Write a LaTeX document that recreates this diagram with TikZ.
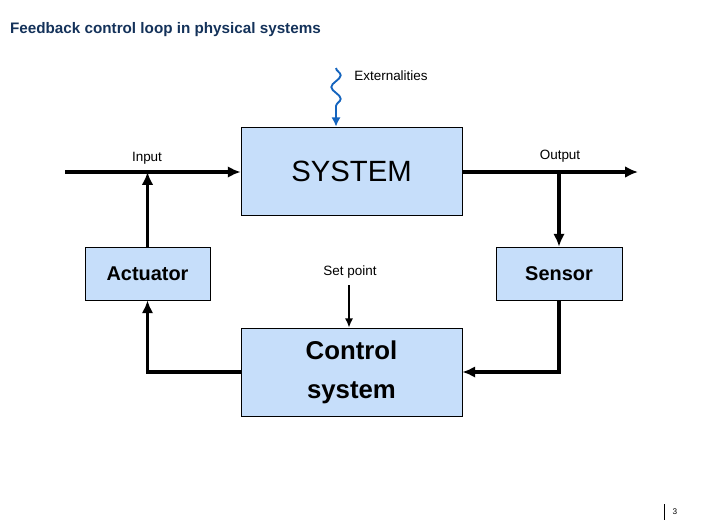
\documentclass[tikz,border=0pt]{standalone}
\usepackage{fontspec}
\setmainfont{Liberation Sans}
\usetikzlibrary{positioning,arrows.meta,decorations.pathmorphing}
\definecolor{boxfill}{RGB}{198,222,250}
\definecolor{titleblue}{RGB}{20,50,90}
\definecolor{wavyblue}{RGB}{20,100,190}
\begin{document}
\begin{tikzpicture}[x=0.03cm,y=-0.03cm,
    block/.style={draw,fill=boxfill,line width=0.6pt,inner sep=0pt,align=center},
    flow/.style={line width=3pt,-{Latex[length=11pt,width=10pt]}},
    lbl/.style={font=\fontsize{11.5}{12}\selectfont}]
    \useasboundingbox (0,0) rectangle (706,529);
    \node[anchor=west,text=titleblue,font=\bfseries\fontsize{13}{14}\selectfont] (title) at (6,30) {Feedback control loop in physical systems};

    \node[block,minimum width=221*0.03cm,minimum height=88*0.03cm,font=\fontsize{25}{27}\selectfont] (sys) at (351.5,171) {SYSTEM};
    \node[block,minimum width=125*0.03cm,minimum height=53*0.03cm,font=\bfseries\fontsize{17}{19}\selectfont] (act) at (147.5,273.5) {Actuator};
    \node[block,minimum width=126*0.03cm,minimum height=53*0.03cm,font=\bfseries\fontsize{17}{19}\selectfont] (sen) at (559,273.5) {Sensor};
    \node[block,minimum width=221*0.03cm,minimum height=88*0.03cm,font=\bfseries\fontsize{22}{33}\selectfont] (ctl) at (351.5,372) {Control\\system};

    \coordinate (in) at (65,172);
    \coordinate (out) at (638,172);
    \coordinate (sp) at (349,285);
    \coordinate (ext) at (336,68);

    \node[lbl] (inlbl) at (147,158) {Input};
    \node[lbl] (outlbl) at (560,156) {Output};
    \node[lbl] (splbl) at (350,272) {Set point};
    \node[lbl] (extlbl) at (391,76) {Externalities};

    \draw[flow] (in) -- (in -| sys.west);
    \draw[flow] (sys.east |- out) -- (out);
    \draw[flow] (sen.north |- out) -- (sen.north);
    \draw[flow] (sen.south) |- (ctl.east);
    \draw[flow] (ctl.west) -| (act.south);
    \draw[flow] (act.north) -- (act.north |- in);
    \draw[line width=1.4pt,-{Latex[length=8pt,width=7pt]}] (sp) -- (sp |- ctl.north);
    \draw[wavyblue,line width=1.6pt,-{Latex[length=8pt,width=8pt]},
        decorate,decoration={snake,amplitude=4pt,segment length=20pt,post length=8pt}]
        (ext) -- (ext |- sys.north);

    \draw[line width=0.6pt] (664,504) -- (664,520);
    \node[font=\fontsize{7}{8}\selectfont] (page) at (675,512) {3};
\end{tikzpicture}
\end{document}
